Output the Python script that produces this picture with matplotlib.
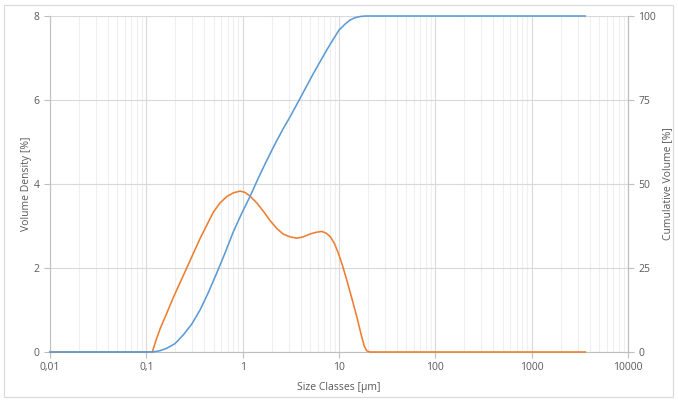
import matplotlib
matplotlib.use("Agg")
import matplotlib.pyplot as plt
from matplotlib.ticker import FixedLocator, LogLocator, NullFormatter
from matplotlib.patches import Rectangle

# Volume density (left axis)
dens_x = [0.01, 0.05, 0.1154, 0.1261, 0.1388, 0.1628, 0.1907, 0.2238, 0.2627, 0.3077,
          0.361, 0.4239, 0.4964, 0.5825, 0.6837, 0.8005, 0.9397, 1.059, 1.193, 1.401,
          1.641, 1.925, 2.261, 2.627, 3.106, 3.646, 4.239, 5.011, 5.784, 6.628,
          7.346, 8.084, 8.896, 9.858, 10.90, 12.05, 13.58, 15.30, 16.96, 18.23,
          19.35, 21.03, 100, 1000, 3600]
dens_y = [0, 0, 0, 0.28, 0.55, 0.92, 1.30, 1.65, 2.00, 2.35,
          2.70, 3.02, 3.33, 3.55, 3.70, 3.79, 3.83, 3.80, 3.71, 3.55,
          3.35, 3.13, 2.94, 2.81, 2.74, 2.71, 2.74, 2.81, 2.85, 2.87,
          2.83, 2.75, 2.60, 2.35, 2.05, 1.71, 1.28, 0.84, 0.42, 0.15,
          0.03, 0, 0, 0, 0]

# Cumulative volume (right axis)
cum_x = [0.01, 0.05, 0.114, 0.1261, 0.1388, 0.1628, 0.1986, 0.2422, 0.296, 0.361,
         0.437, 0.538, 0.6567, 0.8005, 0.979, 1.193, 1.445, 1.750, 2.005, 2.261,
         2.627, 3.106, 3.945, 5.42, 7.47, 8.69, 10.0, 11.57, 13.04, 14.70,
         16.56, 18.67, 100, 1000, 3600]
cum_y = [0, 0, 0, 0.15, 0.4, 1.1, 2.5, 5.1, 8.3, 12.5,
         17.5, 23.5, 29.5, 35.8, 41.3, 46.3, 51.6, 56.6, 60.0, 62.9,
         66.4, 70.0, 75.5, 82.9, 89.9, 93.0, 95.8, 97.6, 98.8, 99.5,
         99.85, 100, 100, 100, 100]

x_ticks = [0.01, 0.1, 1, 10, 100, 1000, 10000]
x_labels = ["0,01", "0,1", "1", "10", "100", "1000", "10000"]
left_ticks = [0, 2, 4, 6, 8]
right_ticks = [0, 25, 50, 75, 100]

plt.rcParams['font.family'] = ['Open Sans', 'DejaVu Sans']
txt = "#595959"
grid_major = "#d9d9d9"
grid_minor = "#efefef"
spine_c = "#bfbfbf"

fig = plt.figure(figsize=(6.78, 4.01), dpi=100)
fig.patches.append(Rectangle((4/678, 4/401), 669/678, 392/401, transform=fig.transFigure,
                             fill=False, edgecolor="#d9d9d9", linewidth=0.8))
ax = fig.add_axes([50/678, 1 - 352/401, 578/678, 336/401])
ax.set_xscale("log")
ax.set_xlim(0.01, 10000)
ax.set_ylim(0, 8)
ax.xaxis.set_major_locator(FixedLocator(x_ticks))
ax.set_xticklabels(x_labels)
ax.xaxis.set_minor_locator(LogLocator(base=10, subs=range(2, 10), numticks=20))
ax.xaxis.set_minor_formatter(NullFormatter())
ax.set_yticks(left_ticks)
ax.grid(True, which="major", color=grid_major, linewidth=0.8)
ax.grid(True, which="minor", axis="x", color=grid_minor, linewidth=0.8)
ax.set_axisbelow(True)
ax.spines["top"].set_visible(False)
for s in ["left", "right", "bottom"]:
    ax.spines[s].set_color(spine_c)
ax.tick_params(which="major", colors=spine_c, labelcolor=txt, labelsize=7.5, length=4, width=0.8)
ax.tick_params(which="minor", length=0)
ax.plot(dens_x, dens_y, color="#ED7D31", linewidth=1.15, solid_joinstyle="round",
        clip_on=False, zorder=3)
ax.set_ylabel("Volume Density [%]", color=txt, fontsize=7.5, labelpad=1)
ax.set_xlabel("Size Classes [µm]", color=txt, fontsize=7.5, labelpad=6)

ax2 = ax.twinx()
ax2.set_ylim(0, 100)
ax2.set_yticks(right_ticks)
ax2.plot(cum_x, cum_y, color="#5B9BD5", linewidth=1.15, solid_joinstyle="round",
         clip_on=False, zorder=3)
for s in ["top", "left", "bottom"]:
    ax2.spines[s].set_visible(False)
ax2.spines["right"].set_color(spine_c)
ax2.tick_params(colors=spine_c, labelcolor=txt, labelsize=7.5, length=4, width=0.8)
ax2.set_ylabel("Cumulative Volume [%]", color=txt, fontsize=7.5, labelpad=4)

fig.savefig("out.png", dpi=100)
